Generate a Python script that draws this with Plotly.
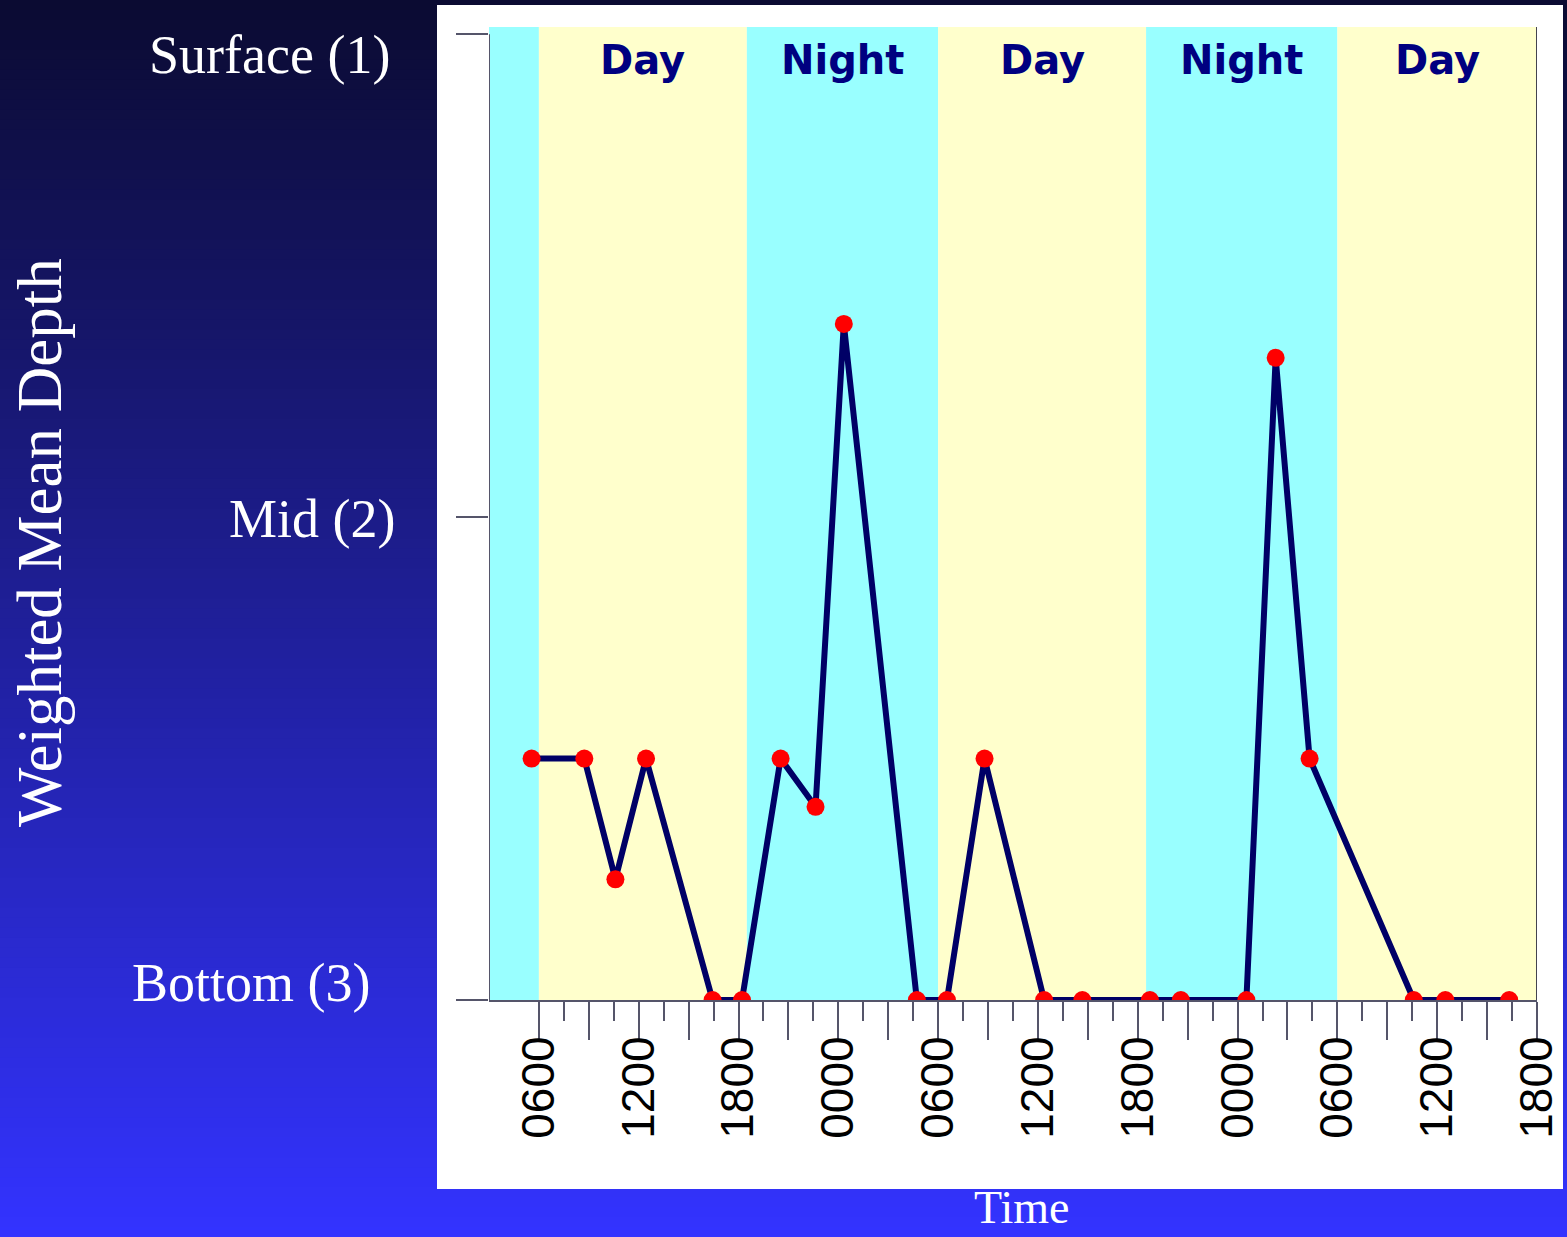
import plotly.graph_objects as go

# ---- data -------------------------------------------------------------
# sampling time in hours since 00:00 of the first day
hours = [5.56, 8.73, 10.6, 12.44, 16.44, 18.21, 20.53, 22.63, 24.33,
         28.72, 30.53, 32.79, 36.37, 38.67, 42.73, 44.59, 48.53, 50.29,
         52.33, 58.59, 60.49, 64.33]
# weighted mean depth: 1 = surface, 2 = mid, 3 = bottom
depth = [2.5, 2.5, 2.75, 2.5, 3, 3, 2.5, 2.6, 1.6,
         3, 3, 2.5, 3, 3, 3, 3, 3, 1.67,
         2.5, 3, 3, 3]

# light periods (hours)
period_start = [3, 6, 18.5, 30, 42.5, 54]
period_end = [6, 18.5, 30, 42.5, 54, 66]
period_kind = ["Night", "Day", "Night", "Day", "Night", "Day"]
period_label = [None, "Day", "Night", "Day", "Night", "Day"]

# x-axis ticks every 3 h, labelled every 6 h
tick_hours = [6, 9, 12, 15, 18, 21, 24, 27, 30, 33, 36, 39, 42, 45, 48, 51,
              54, 57, 60, 63, 66]
tick_text = ["0600", "", "1200", "", "1800", "", "0000", "", "0600", "",
             "1200", "", "1800", "", "0000", "", "0600", "", "1200", "", "1800"]

depth_levels = [1, 2, 3]
depth_names = ["Surface (1)", "Mid (2)", "Bottom (3)"]

# ---- layout geometry ---------------------------------------------------
W, H = 1567, 1237
ML, MR, MT, MB = 489, 30, 27, 237
PW, PH = W - ML - MR, H - MT - MB


def paper_x(px):
    return (px - ML) / PW


def paper_y(py):
    return (H - MB - py) / PH


NIGHT = "#99ffff"
DAY = "#ffffcc"
NAVY = "#000066"
AXIS = "#55556a"

shapes = []

# slide background: vertical gradient from dark navy to bright blue
n_strips = 124
top_rgb = (11, 11, 50)
bot_rgb = (51, 51, 255)
for i in range(n_strips):
    t = i / (n_strips - 1)
    c = tuple(round(a + (b - a) * t) for a, b in zip(top_rgb, bot_rgb))
    y_top = i * H / n_strips
    y_bot = (i + 1) * H / n_strips + 1
    shapes.append(dict(type="rect", xref="paper", yref="paper", layer="below",
                       x0=paper_x(0), x1=paper_x(W),
                       y0=paper_y(y_bot), y1=paper_y(y_top),
                       fillcolor="rgb(%d,%d,%d)" % c, line=dict(width=0)))

# white chart panel
shapes.append(dict(type="rect", xref="paper", yref="paper", layer="below",
                   x0=paper_x(437), x1=paper_x(1563),
                   y0=paper_y(1189), y1=paper_y(5),
                   fillcolor="white", line=dict(width=0)))

# day / night shading
for s, e, k in zip(period_start, period_end, period_kind):
    shapes.append(dict(type="rect", xref="x", yref="paper", layer="below",
                       x0=s, x1=e, y0=0, y1=1,
                       fillcolor=NIGHT if k == "Night" else DAY,
                       line=dict(width=0)))

# left axis line (surface to bottom) and right frame line
shapes.append(dict(type="line", xref="x", yref="y", x0=3, x1=3, y0=1, y1=3,
                   line=dict(color=AXIS, width=2)))
shapes.append(dict(type="line", xref="x", yref="paper", x0=66, x1=66, y0=0, y1=1,
                   line=dict(color="#44444f", width=2)))

annotations = []
for s, e, lab in zip(period_start, period_end, period_label):
    if lab:
        annotations.append(dict(x=(s + e) / 2, xref="x", y=paper_y(60), yref="paper",
                                text=lab, showarrow=False, xanchor="center",
                                yanchor="middle",
                                font=dict(family="DejaVu Sans", size=40,
                                          color="#000080", weight="bold")))

label_pos = [(392, 55), (397, 519), (373, 983)]
for name, (px, py) in zip(depth_names, label_pos):
    annotations.append(dict(x=paper_x(px), y=paper_y(py), xref="paper", yref="paper",
                            text=name, showarrow=False, xanchor="right",
                            yanchor="middle",
                            font=dict(family="Liberation Serif", size=54,
                                      color="white")))

annotations.append(dict(x=paper_x(40), y=paper_y(543), xref="paper", yref="paper",
                        text="Weighted Mean Depth", textangle=-90, showarrow=False,
                        xanchor="center", yanchor="middle",
                        font=dict(family="Liberation Serif", size=63, color="white")))
annotations.append(dict(x=paper_x(1021), y=paper_y(1208), xref="paper", yref="paper",
                        text="Time", showarrow=False, xanchor="center",
                        yanchor="middle",
                        font=dict(family="Liberation Serif", size=46, color="white")))

fig = go.Figure()
fig.add_trace(go.Scatter(
    x=hours, y=depth, mode="lines+markers",
    line=dict(color=NAVY, width=6),
    marker=dict(color="#ff0000", size=18, line=dict(width=0)),
    hoverinfo="x+y", showlegend=False,
))

minor_vals = [h + 1.5 for h in tick_hours[:-1]]

fig.update_layout(
    width=W, height=H, autosize=False,
    margin=dict(l=ML, r=MR, t=MT, b=MB, pad=0, autoexpand=False),
    paper_bgcolor="rgb(51,51,255)",
    plot_bgcolor="rgba(0,0,0,0)",
    shapes=shapes,
    annotations=annotations,
    showlegend=False,
    xaxis=dict(
        range=[3, 66], showgrid=False, zeroline=False, automargin=False,
        showline=True, linecolor=AXIS, linewidth=2,
        tickmode="array", tickvals=tick_hours, ticktext=tick_text,
        ticks="outside", ticklen=38, tickwidth=2, tickcolor=AXIS,
        tickangle=-90, ticklabelstandoff=-22,
        tickfont=dict(family="Liberation Sans", size=46, color="black"),
        minor=dict(tickmode="array", tickvals=minor_vals, ticks="outside",
                   ticklen=19, tickwidth=2, tickcolor=AXIS, showgrid=False),
    ),
    yaxis=dict(
        range=[3, 0.985], showgrid=False, zeroline=False, showline=False,
        automargin=False,
        tickmode="array", tickvals=depth_levels, showticklabels=False,
        ticks="outside", ticklen=32, tickwidth=2, tickcolor=AXIS,
    ),
)

fig.write_html("out.html")
